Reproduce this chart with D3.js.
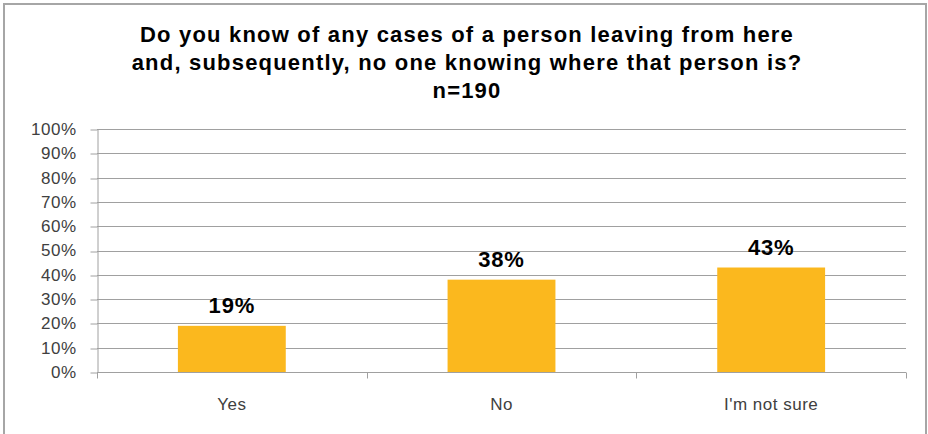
<!DOCTYPE html>
<html>
<head>
<meta charset="utf-8">
<script src="https://cdn.jsdelivr.net/npm/d3@7"></script>
<style>
  body { margin: 0; background: #fff; }
  svg { display: block; }
</style>
</head>
<body>
<svg class="chart" width="928" height="434"></svg>
<script>
const categories = ['Yes', 'No', "I'm not sure"];
const values = [19, 38, 43];
const yTicks = [0, 10, 20, 30, 40, 50, 60, 70, 80, 90, 100];
const titleLines = [
  'Do you know of any cases of a person leaving from here',
  'and, subsequently, no one knowing where that person is?',
  'n=190'
];

function drawChart(){
  const svg = d3.select('svg.chart');
  const width = 928;
  const height = 434;
  const margin = {left: 97, right: 22, top: 129, bottom: 62};
  const font = "Arial, 'Liberation Sans', sans-serif";

  // outer frame (bottom edge falls outside the picture)
  svg.append('rect')
    .attr('x', 4)
    .attr('y', 4)
    .attr('width', 922)
    .attr('height', 460)
    .style('fill', 'none')
    .style('stroke', '#a6a6a6')
    .style('stroke-width', 2);

  const x = d3.scaleBand()
    .domain(categories)
    .range([margin.left, width - margin.right])
    .paddingInner(0.6)
    .paddingOuter(0.3);

  const y = d3.scaleLinear()
    .domain([0, 100])
    .range([height - margin.bottom, margin.top]);

  // title
  svg.append('g')
    .attr('class', 'title')
    .selectAll('text')
    .data(titleLines)
    .enter()
    .append('text')
    .attr('x', 467)
    .attr('y', (d, i) => 42 + i * 28)
    .text(d => d)
    .style('text-anchor', 'middle')
    .style('font-family', font)
    .style('font-size', '22px')
    .style('letter-spacing', '1.2px')
    .style('font-weight', 'bold')
    .style('fill', '#000');

  // gridlines
  svg.append('g')
    .attr('class', 'grid')
    .selectAll('line')
    .data(yTicks.filter(d => d > 0))
    .enter()
    .append('line')
    .attr('x1', margin.left)
    .attr('x2', width - margin.right)
    .attr('y1', d => Math.round(y(d)) + 0.5)
    .attr('y2', d => Math.round(y(d)) + 0.5)
    .style('stroke', '#a0a0a0')
    .style('stroke-width', 1);

  // y axis
  const yAxis = svg.append('g')
    .attr('class', 'y-axis')
    .attr('transform', `translate(${margin.left + 0.5}, 0)`)
    .call(d3.axisLeft(y).tickValues(yTicks).tickFormat(d => d + '%').tickSize(7).tickSizeOuter(0).tickPadding(14));
  yAxis.select('.domain').style('stroke', '#a0a0a0');
  yAxis.selectAll('.tick line')
    .style('stroke', '#a0a0a0')
    .attr('transform', d => `translate(0, ${Math.round(y(d)) + 0.5 - y(d)})`);
  yAxis.selectAll('.tick text')
    .style('font-family', font)
    .style('font-size', '17px')
    .style('letter-spacing', '0.5px')
    .style('fill', '#404040');

  // bars
  svg.append('g')
    .attr('class', 'bars')
    .selectAll('rect')
    .data(values)
    .enter()
    .append('rect')
    .attr('x', (d, i) => x(categories[i]))
    .attr('y', d => y(d))
    .attr('width', x.bandwidth())
    .attr('height', d => y(0) - y(d))
    .style('fill', '#fbb81e');

  // value labels
  svg.append('g')
    .attr('class', 'labels')
    .selectAll('text')
    .data(values)
    .enter()
    .append('text')
    .attr('x', (d, i) => x(categories[i]) + x.bandwidth() / 2)
    .attr('y', d => y(d) - 13)
    .text(d => d + '%')
    .style('text-anchor', 'middle')
    .style('font-family', font)
    .style('font-size', '22px')
    .style('letter-spacing', '0.8px')
    .style('font-weight', 'bold')
    .style('fill', '#000');

  // x axis
  const xAxis = svg.append('g')
    .attr('class', 'x-axis')
    .attr('transform', `translate(0, ${Math.round(y(0)) + 0.5})`);
  xAxis.append('line')
    .attr('x1', margin.left)
    .attr('x2', width - margin.right)
    .style('stroke', '#a0a0a0');
  xAxis.selectAll('line.sep')
    .data(d3.range(categories.length + 1))
    .enter()
    .append('line')
    .attr('class', 'sep')
    .attr('x1', i => Math.round(margin.left + i * (width - margin.left - margin.right) / categories.length) + 0.5)
    .attr('x2', i => Math.round(margin.left + i * (width - margin.left - margin.right) / categories.length) + 0.5)
    .attr('y1', 0)
    .attr('y2', 6)
    .style('stroke', '#a0a0a0');
  xAxis.selectAll('text')
    .data(categories)
    .enter()
    .append('text')
    .attr('x', d => x(d) + x.bandwidth() / 2)
    .attr('y', 37)
    .text(d => d)
    .style('text-anchor', 'middle')
    .style('font-family', font)
    .style('font-size', '17px')
    .style('letter-spacing', '0.5px')
    .style('fill', '#404040');
}

drawChart();
</script>
</body>
</html>
